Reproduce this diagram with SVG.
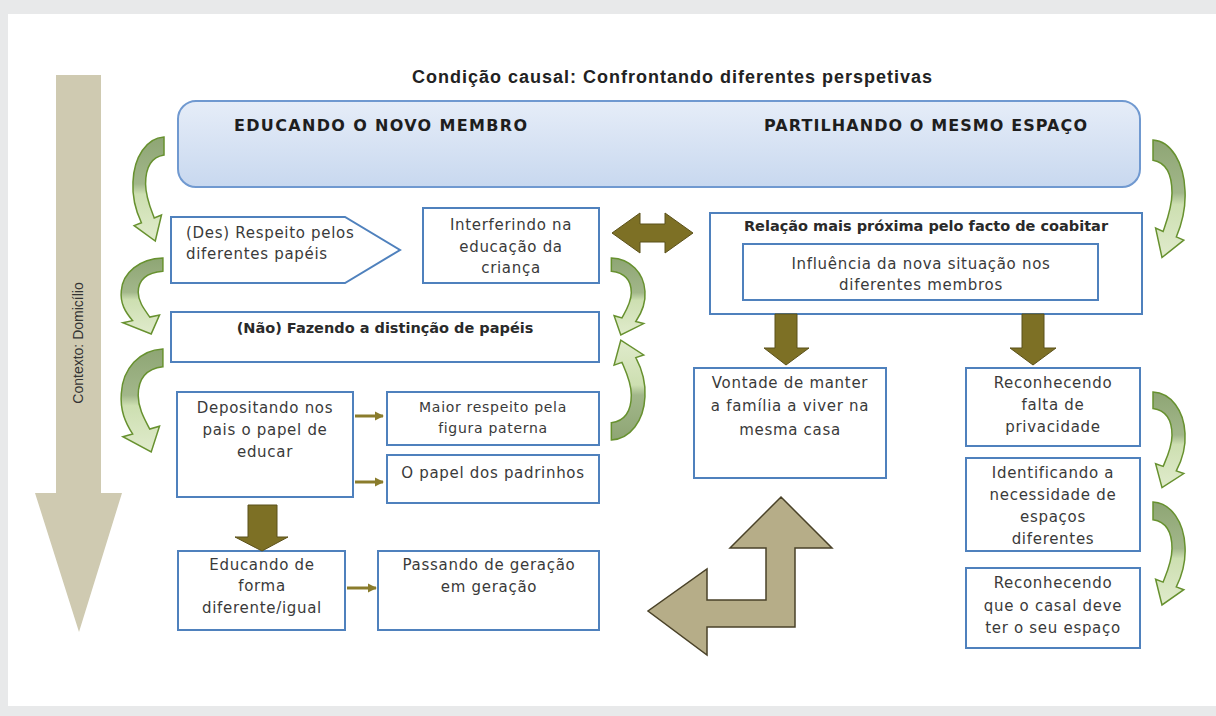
<svg xmlns="http://www.w3.org/2000/svg" width="1216" height="716" viewBox="0 0 1216 716">
<defs>
<linearGradient id="hdr" x1="0" y1="0" x2="0" y2="1"><stop offset="0" stop-color="#e6edf8"/><stop offset="1" stop-color="#c8d8ef"/></linearGradient>
<linearGradient id="cg" x1="0" y1="0" x2="0" y2="1"><stop offset="0" stop-color="#8ea574"/><stop offset="0.45" stop-color="#a2b78a"/><stop offset="0.55" stop-color="#cddfb1"/><stop offset="1" stop-color="#e0ebcc"/></linearGradient>
<path id="curv" vector-effect="non-scaling-stroke" d="M33,0 C15,1 2,20 1,45 C0,62 4,74 9.7,85.8 L2.2,88.6 L24,104 L30.4,78 L22.9,80.9 C19,71 14,60 14,47 C14,30 20,20 33,18 Z"/>
<marker id="ah" viewBox="0 0 10 10" refX="9" refY="5" markerWidth="9" markerHeight="10" markerUnits="userSpaceOnUse" orient="auto"><path d="M0,0 L10,5 L0,10 z" fill="#8a7c2c"/></marker>
</defs>
<style>
.box{fill:#fff;stroke:#4f81bd;stroke-width:2}
.t{font-family:"DejaVu Sans","Liberation Sans",sans-serif;font-size:15px;letter-spacing:0.7px;fill:#3a3a3a;text-anchor:middle}
.s{font-size:14px}
.b{font-weight:bold;font-size:14.5px;letter-spacing:0;fill:#2a2a2a}
.h{font-family:"DejaVu Sans","Liberation Sans",sans-serif;font-weight:bold;font-size:16px;fill:#1e1e1e}
.ol{fill:#7d7025;stroke:#5b511a;stroke-width:1}
.cv{fill:url(#cg);stroke:#67912f;stroke-width:1.5}
.sm{stroke:#8a7c2c;stroke-width:3;fill:none}
</style>
<rect x="0" y="0" width="1216" height="716" fill="#e8e9ea"/>
<rect x="8" y="14" width="1208" height="692" fill="#ffffff"/>

<g id="contexto">
<polygon points="56,75 101,75 101,493 122,493 79,632 35,493 56,493" fill="#cfcab1"/>
<text transform="translate(83,343) rotate(-90)" font-family="Liberation Sans, sans-serif" font-size="14" fill="#333" text-anchor="middle">Contexto: Domicílio</text>
</g>

<text x="672" y="83" font-family="Liberation Sans, sans-serif" font-weight="bold" font-size="18" fill="#222" text-anchor="middle" textLength="520" lengthAdjust="spacing">Condição causal: Confrontando diferentes perspetivas</text>

<g id="header">
<rect x="178" y="101" width="962" height="86" rx="18" fill="url(#hdr)" stroke="#7099d0" stroke-width="2"/>
<text class="h" x="234" y="131" textLength="293" lengthAdjust="spacing">EDUCANDO O NOVO MEMBRO</text>
<text class="h" x="764" y="131" textLength="323" lengthAdjust="spacing">PARTILHANDO O MESMO ESPAÇO</text>
</g>

<g id="des-respeito">
<polygon class="box" points="171,217 345,217 400,250 345,283 171,283"/>
<text class="t" style="text-anchor:start"><tspan x="186" y="238">(Des) Respeito pelos</tspan><tspan x="186" y="259">diferentes papéis</tspan></text>
</g>

<g id="interferindo">
<rect class="box" x="423" y="208" width="176" height="75"/>
<text class="t"><tspan x="511" y="230">Interferindo na</tspan><tspan x="511" y="252">educação da</tspan><tspan x="511" y="273">criança</tspan></text>
</g>

<g id="nao-fazendo">
<rect class="box" x="171" y="312" width="428" height="50"/>
<text class="t b" x="385" y="333">(Não) Fazendo a distinção de papéis</text>
</g>

<g id="depositando">
<rect class="box" x="177" y="392" width="176" height="105"/>
<text class="t"><tspan x="265" y="413">Depositando nos</tspan><tspan x="265" y="435">pais o papel de</tspan><tspan x="265" y="457">educar</tspan></text>
</g>

<g id="maior-respeito">
<rect class="box" x="387" y="392" width="212" height="53"/>
<text class="t s"><tspan x="493" y="412">Maior respeito pela</tspan><tspan x="493" y="433">figura paterna</tspan></text>
</g>

<g id="padrinhos">
<rect class="box" x="387" y="455" width="212" height="48"/>
<text class="t" x="493" y="478">O papel dos padrinhos</text>
</g>

<g id="educando-forma">
<rect class="box" x="178" y="551" width="167" height="79"/>
<text class="t"><tspan x="262" y="570">Educando de</tspan><tspan x="262" y="591">forma</tspan><tspan x="262" y="613">diferente/igual</tspan></text>
</g>

<g id="passando">
<rect class="box" x="378" y="551" width="221" height="79"/>
<text class="t"><tspan x="489" y="570">Passando de geração</tspan><tspan x="489" y="592">em geração</tspan></text>
</g>

<g id="relacao">
<rect class="box" x="710" y="213" width="432" height="101"/>
<text class="t b" x="926" y="231">Relação mais próxima pelo facto de coabitar</text>
</g>

<g id="influencia">
<rect class="box" x="743" y="244" width="355" height="56"/>
<text class="t"><tspan x="921" y="269">Influência da nova situação nos</tspan><tspan x="921" y="290">diferentes membros</tspan></text>
</g>

<g id="vontade">
<rect class="box" x="694" y="368" width="192" height="110"/>
<text class="t"><tspan x="790" y="388">Vontade de manter</tspan><tspan x="790" y="411">a família a viver na</tspan><tspan x="790" y="435">mesma casa</tspan></text>
</g>

<g id="falta-privacidade">
<rect class="box" x="966" y="368" width="174" height="78"/>
<text class="t"><tspan x="1053" y="388">Reconhecendo</tspan><tspan x="1053" y="410">falta de</tspan><tspan x="1053" y="432">privacidade</tspan></text>
</g>

<g id="espacos-diferentes">
<rect class="box" x="966" y="458" width="174" height="93"/>
<text class="t"><tspan x="1053" y="478">Identificando a</tspan><tspan x="1053" y="500">necessidade de</tspan><tspan x="1053" y="522">espaços</tspan><tspan x="1053" y="544">diferentes</tspan></text>
</g>

<g id="casal-espaco">
<rect class="box" x="966" y="568" width="174" height="80"/>
<text class="t"><tspan x="1053" y="588">Reconhecendo</tspan><tspan x="1053" y="611">que o casal deve</tspan><tspan x="1053" y="633">ter o seu espaço</tspan></text>
</g>

<g id="connectors">
<use href="#curv" class="cv" transform="translate(132,137) scale(0.97,1.0)"/>
<use href="#curv" class="cv" transform="translate(120,258) scale(1.3,0.73)"/>
<use href="#curv" class="cv" transform="translate(120,349) scale(1.3,0.99)"/>
<use href="#curv" class="cv" transform="translate(646,258) scale(-1.05,0.74)"/>
<use href="#curv" class="cv" transform="translate(646,440) scale(-1.05,-0.96)"/>
<use href="#curv" class="cv" transform="translate(1186,140) scale(-1,1.13)"/>
<use href="#curv" class="cv" transform="translate(1186,392) scale(-1,0.92)"/>
<use href="#curv" class="cv" transform="translate(1186,502) scale(-1,0.99)"/>

<polygon class="ol" points="612,233 640,213 640,224 665,224 665,213 693,233 665,253 665,242 640,242 640,253"/>
<polygon class="ol" points="775,314 797,314 797,348 809,348 786,365 764,348 775,348"/>
<polygon class="ol" points="1022,314 1044,314 1044,348 1056,348 1033,365 1010,348 1022,348"/>
<polygon class="ol" points="248,505 277,505 277,537 288,537 262,551 235,537 248,537"/>

<line class="sm" x1="355" y1="416" x2="383" y2="416" marker-end="url(#ah)"/>
<line class="sm" x1="355" y1="482" x2="383" y2="482" marker-end="url(#ah)"/>
<line class="sm" x1="347" y1="588" x2="376" y2="588" marker-end="url(#ah)"/>

<polygon points="781,497 832,548 795,548 795,627 707,627 707,655 648,611 707,569 707,600 766,600 766,548 730,548" fill="#b6ad88" stroke="#4a4228" stroke-width="1.5"/>
</g>
</svg>
